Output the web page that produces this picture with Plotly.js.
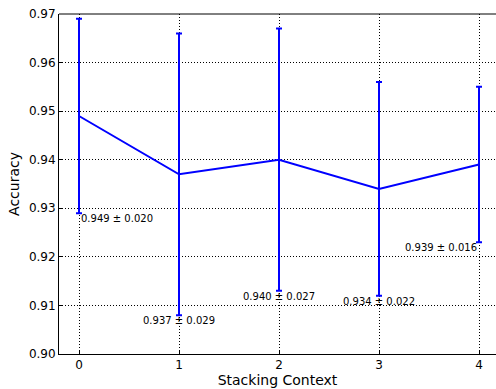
<!DOCTYPE html>
<html>
<head>
<meta charset="utf-8">
<script src="https://cdn.plot.ly/plotly-3.0.1.min.js"></script>
<style>
  html, body { margin: 0; padding: 0; background: #fff; }
  #chart { width: 496px; height: 389px; }
</style>
</head>
<body>
<div id="chart"></div>
<script>
// Stacking context sizes and the mean accuracy with its standard deviation
const contexts = [0, 1, 2, 3, 4];
const meanAccuracy = [0.949, 0.937, 0.940, 0.934, 0.939];
const stdAccuracy = [0.020, 0.029, 0.027, 0.022, 0.016];
const yTicks = [0.90, 0.91, 0.92, 0.93, 0.94, 0.95, 0.96, 0.97];

const labelAnchors = ['left', 'center', 'center', 'center', 'right'];

const trace = {
  x: contexts,
  y: meanAccuracy,
  type: 'scatter',
  mode: 'lines',
  line: { color: '#0000ff', width: 2 },
  error_y: {
    type: 'data',
    array: stdAccuracy,
    visible: true,
    color: '#0000ff',
    thickness: 2,
    width: 3
  },
  hoverinfo: 'skip'
};

// mean ± std written just under the lower end of each error bar
const annotations = contexts.map((c, i) => ({
  x: c,
  y: meanAccuracy[i] - stdAccuracy[i],
  xref: 'x',
  yref: 'y',
  text: meanAccuracy[i].toFixed(3) + ' ± ' + stdAccuracy[i].toFixed(3),
  showarrow: false,
  xanchor: labelAnchors[i],
  yanchor: 'top',
  yshift: 2,
  font: { family: 'DejaVu Sans', size: 10, color: '#000' }
}));

const gridStyle = {
  showgrid: true,
  gridcolor: '#000',
  gridwidth: 1,
  griddash: '1px,2px',
  zeroline: false,
  showline: true,
  linecolor: '#000',
  linewidth: 1,
  ticks: 'inside',
  ticklen: 4,
  tickcolor: '#000',
  tickfont: { family: 'DejaVu Sans', size: 12, color: '#000' }
};

const titleFont = { family: 'DejaVu Sans', size: 14, color: '#000' };

const layout = {
  width: 496,
  height: 389,
  margin: { l: 59, r: 0, t: 14, b: 35, pad: 0 },
  paper_bgcolor: '#fff',
  plot_bgcolor: '#fff',
  showlegend: false,
  xaxis: Object.assign({}, gridStyle, {
    range: [-0.2, 4.17],
    tickvals: contexts,
    ticktext: contexts.map(String),
    title: { text: 'Stacking Context', font: titleFont, standoff: 2 }
  }),
  yaxis: Object.assign({}, gridStyle, {
    range: [0.90, 0.97],
    tickvals: yTicks,
    ticktext: yTicks.map(v => v.toFixed(2)),
    title: { text: 'Accuracy', font: titleFont, standoff: 5 }
  }),
  shapes: [{
    type: 'line', xref: 'paper', yref: 'paper',
    x0: 0, x1: 1, y0: 1, y1: 1,
    line: { color: '#000', width: 1 }
  }],
  annotations: annotations
};

Plotly.newPlot('chart', [trace], layout, { displayModeBar: false, staticPlot: true });
</script>
</body>
</html>
